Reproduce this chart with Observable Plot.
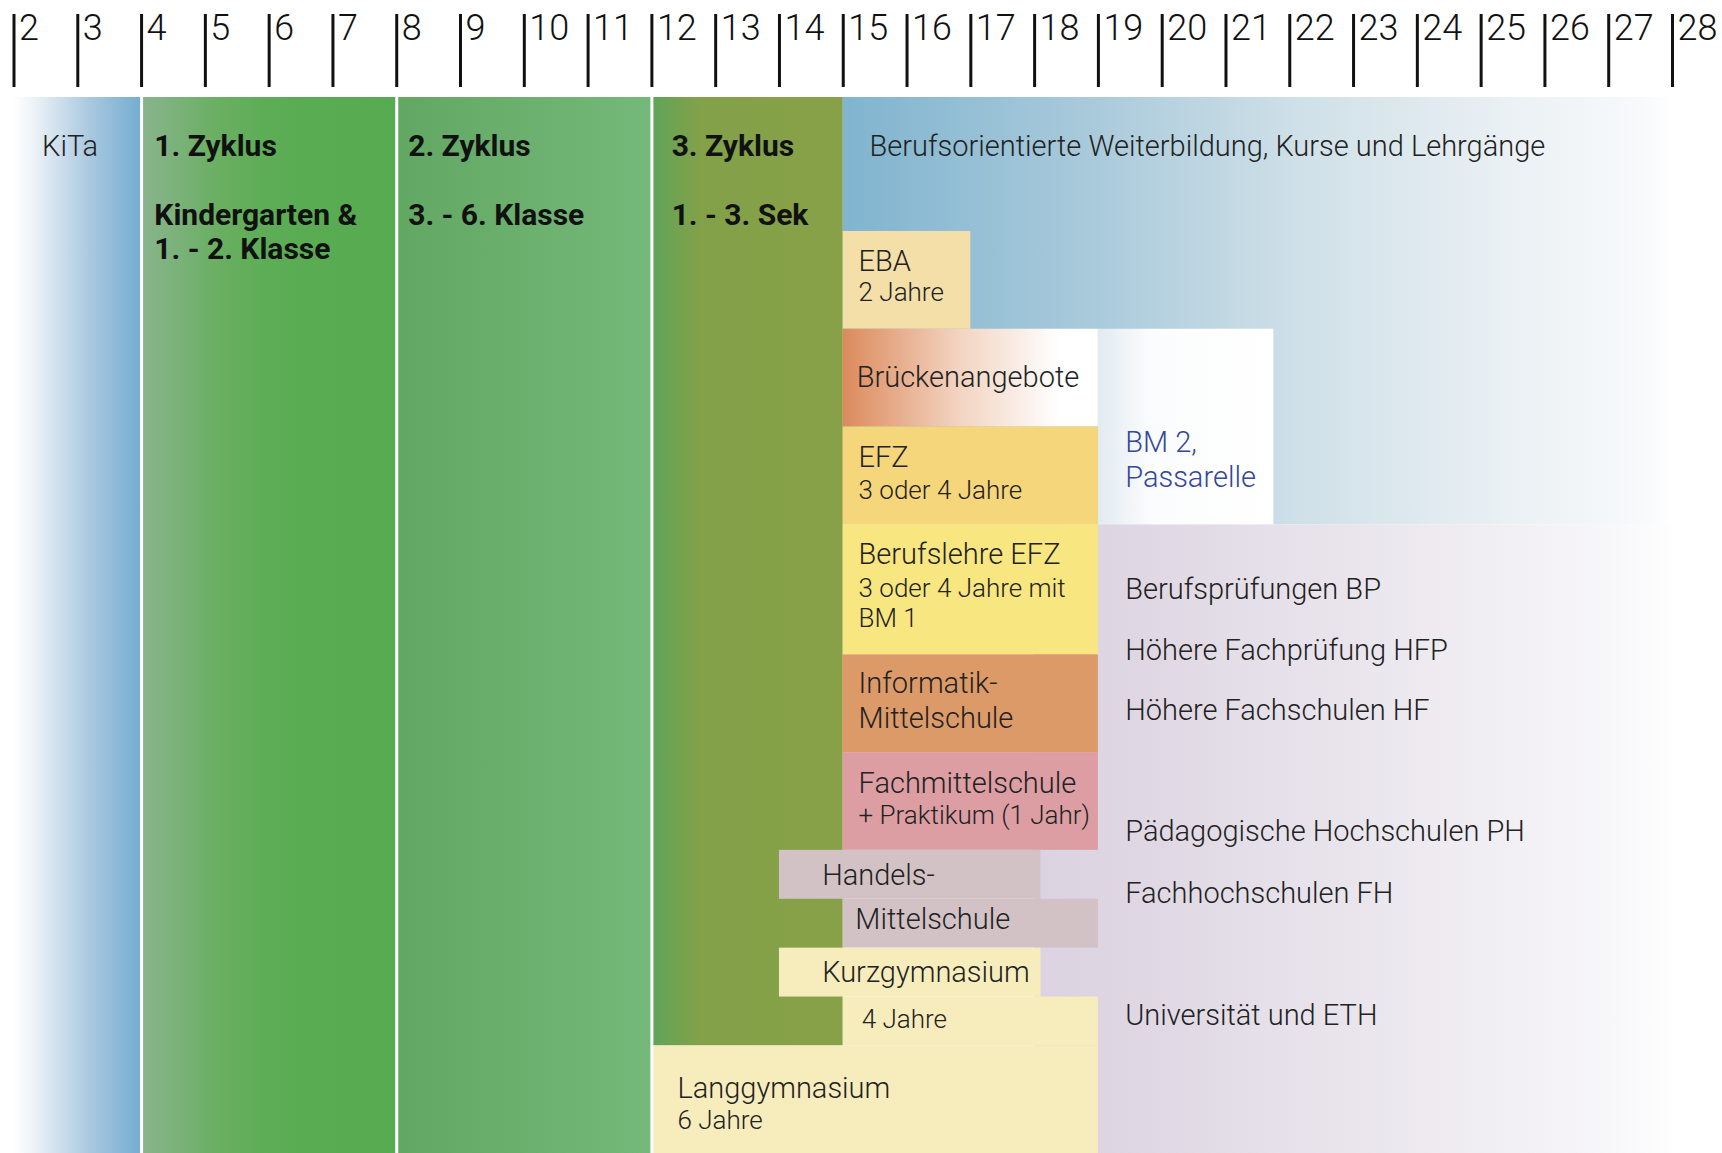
<!DOCTYPE html>
<html><head><meta charset="utf-8">
<script src="https://cdn.jsdelivr.net/npm/d3@7"></script>
<script src="https://cdn.jsdelivr.net/npm/@observablehq/plot@0.6"></script>
<style>
html,body{margin:0;padding:0;background:#fff;}
#chart svg{display:block;}
</style></head><body><div id="chart"></div>
<script>
// ---- data ----
const ages = d3.range(2, 29);               // Alter (Jahre), Achsenbeschriftung
const separators = [4, 8, 12];              // Grenzen KiTa / Zyklen

// Bildungsangebote: Name, Alter von/bis, Zeile von/bis
const blockNames = ["Berufsorientierte Weiterbildung", "Tertiärstufe", "KiTa", "1. Zyklus", "2. Zyklus", "3. Zyklus",
  "EBA", "Brückenangebote", "BM 2, Passarelle", "EFZ", "Berufslehre EFZ mit BM 1", "Informatik-Mittelschule",
  "Fachmittelschule", "Handels-Mittelschule (1)", "Handels-Mittelschule (2)", "Kurzgymnasium (1)", "Kurzgymnasium (2)", "Langgymnasium"];
const ageFrom = [15, 18, 2, 4, 8, 12, 15, 15, 19, 15, 15, 15, 15, 14, 15, 14, 15, 12];
const ageTo   = [28, 28, 4, 8, 12, 15, 17, 19, 21.75, 19, 19, 19, 19, 18.1, 19, 18.1, 19, 19];
const rowFrom = [0, 4.37, 0, 0, 0, 0, 1.37, 2.37, 2.37, 3.37, 4.37, 5.7, 6.7, 7.7, 8.2, 8.7, 9.2, 9.7];
const rowTo   = [4.37, 10.8, 10.8, 10.8, 10.8, 9.7, 2.37, 3.37, 4.37, 4.37, 5.7, 6.7, 7.7, 8.2, 8.7, 9.2, 9.7, 10.8];

// Beschriftungen
const headTexts = ["1. Zyklus", "Kindergarten &", "1. - 2. Klasse", "2. Zyklus", "3. - 6. Klasse", "3. Zyklus", "1. - 3. Sek"];
const headAges  = [4.2, 4.2, 4.2, 8.18, 8.18, 12.31, 12.31];
const headRows  = [0.5, 1.21, 1.55, 0.5, 1.21, 0.5, 1.21];

const mainTexts = ["KiTa", "Berufsorientierte Weiterbildung, Kurse und Lehrgänge", "EBA", "Brückenangebote", "EFZ",
  "Berufslehre EFZ", "Informatik-", "Mittelschule", "Fachmittelschule", "Handels-", "Mittelschule", "Kurzgymnasium", "Langgymnasium",
  "Berufsprüfungen BP", "Höhere Fachprüfung HFP", "Höhere Fachschulen HF", "Pädagogische Hochschulen PH", "Fachhochschulen FH", "Universität und ETH"];
const mainAges = [2.44, 15.41, 15.24, 15.21, 15.24, 15.24, 15.24, 15.24, 15.24, 14.67, 15.19, 14.67, 12.4,
  19.42, 19.42, 19.42, 19.42, 19.42, 19.42];
const mainRows = [0.5, 0.5, 1.68, 2.87, 3.68, 4.68, 6.0, 6.35, 7.02, 7.96, 8.41, 8.95, 10.14,
  5.03, 5.66, 6.27, 7.51, 8.14, 9.39];

const subTexts = ["2 Jahre", "3 oder 4 Jahre", "3 oder 4 Jahre mit", "BM 1", "+ Praktikum (1 Jahr)", "4 Jahre", "6 Jahre"];
const subAges  = [15.24, 15.24, 15.24, 15.24, 15.24, 15.29, 12.4];
const subRows  = [2.0, 4.02, 5.02, 5.33, 7.34, 9.43, 10.46];

const bmTexts = ["BM 2,", "Passarelle"];
const bmAges  = [19.42, 19.42];
const bmRows  = [3.53, 3.89];

// ---- styles ----
const palette = {
  "Berufsorientierte Weiterbildung": "url(#gWeiter)",
  "Tertiärstufe": "url(#gTert)",
  "KiTa": "url(#gKita)",
  "1. Zyklus": "url(#gZ1)",
  "2. Zyklus": "url(#gZ2)",
  "3. Zyklus": "url(#gZ3)",
  "EBA": "#f4dfa9",
  "Brückenangebote": "url(#gBruecke)",
  "BM 2, Passarelle": "url(#gBM2)",
  "EFZ": "#f6d67b",
  "Berufslehre EFZ mit BM 1": "#f8e680",
  "Informatik-Mittelschule": "#dd9a69",
  "Fachmittelschule": "#dc9ea2",
  "Handels-Mittelschule (1)": "#d2c2c6",
  "Handels-Mittelschule (2)": "#d2c2c6",
  "Kurzgymnasium (1)": "#f7ecbc",
  "Kurzgymnasium (2)": "#f7ecbc",
  "Langgymnasium": "#f7ecbc"
};
const gradients = {
  gWeiter: [[0, "#80b4cf"], [0.3, "#a9cadb"], [0.55, "#cfe0e8"], [0.8, "#eaf0f4"], [0.97, "#f8fafb"], [1, "#ffffff"]],
  gTert: [[0, "#dcd3e2"], [0.1, "#ddd5e2"], [0.55, "#ebe7ee"], [0.9, "#f7f6f9"], [1, "#fefefe"]],
  gKita: [[0, "#ffffff"], [0.15, "#eef3f8"], [0.6, "#a9c8df"], [1, "#74acd2"]],
  gZ1: [[0, "#8ab48e"], [0.3, "#6aaf62"], [0.5, "#5cad55"], [1, "#56aa4f"]],
  gZ2: [[0, "#62a762"], [1, "#75b97a"]],
  gZ3: [[0, "#5fa45a"], [0.25, "#82a149"], [1, "#88a148"]],
  gBruecke: [[0, "#dc8a5c"], [0.45, "#f2d3c0"], [0.85, "#ffffff"], [1, "#ffffff"]],
  gBM2: [[0, "#e2ebf1"], [0.3, "#fbfcfd"], [1, "#ffffff"]]
};

const blocks = blockNames.map((name, i) => ({name, x1: ageFrom[i], x2: ageTo[i], y1: rowFrom[i], y2: rowTo[i]}));
const zip = (t, a, r) => t.map((text, i) => ({text, age: a[i], row: r[i]}));
const headLabels = zip(headTexts, headAges, headRows);
const mainLabels = zip(mainTexts, mainAges, mainRows);
const subLabels = zip(subTexts, subAges, subRows);
const bmLabels = zip(bmTexts, bmAges, bmRows);

const FONT = "Roboto, 'Liberation Sans', Arial, sans-serif";

const svg = Plot.plot({
  width: 1722,
  height: 1153,
  marginTop: 86,
  insetTop: 11,
  marginLeft: 13.5,
  marginRight: 50,
  marginBottom: 0,
  x: {domain: [2, 28], axis: null},
  y: {domain: [0, 10.8], reverse: true, axis: null},
  color: {type: "identity"},
  style: {fontFamily: FONT, background: "#fff", color: "#222"},
  marks: [
    Plot.rect(blocks, {x1: "x1", x2: "x2", y1: "y1", y2: "y2", fill: d => palette[d.name]}),
    Plot.ruleX(separators, {stroke: "#fff", strokeWidth: 3}),
    // tick lines
    Plot.axisX(ages, {anchor: "top", tickSize: 73, tickFormat: () => "", color: "#111", strokeWidth: 3}),
    // tick labels, to the right of each line
    Plot.axisX(ages, {anchor: "top", tickSize: 0, tickPadding: 72, lineAnchor: "top", textAnchor: "start",
      dx: 5, fontSize: 36, fontWeight: 300, color: "#111", tickFormat: d => String(d)}),
    Plot.text(headLabels, {x: "age", y: "row", text: "text", textAnchor: "start", lineAnchor: "middle",
      fontSize: 30, fontWeight: 700, fill: "#111"}),
    Plot.text(mainLabels, {x: "age", y: "row", text: "text", textAnchor: "start", lineAnchor: "middle",
      fontSize: 29, fontWeight: 300, fill: "#222"}),
    Plot.text(subLabels, {x: "age", y: "row", text: "text", textAnchor: "start", lineAnchor: "middle",
      fontSize: 26, fontWeight: 300, fill: "#222"}),
    Plot.text(bmLabels, {x: "age", y: "row", text: "text", textAnchor: "start", lineAnchor: "middle",
      fontSize: 29, fontWeight: 300, fill: "#34479a"})
  ]
});

const defs = d3.select(svg).insert("defs", ":first-child");
for (const [id, stops] of Object.entries(gradients)) {
  const g = defs.append("linearGradient").attr("id", id).attr("x1", 0).attr("x2", 1).attr("y1", 0).attr("y2", 0);
  for (const [o, c] of stops) g.append("stop").attr("offset", o).attr("stop-color", c);
}
document.getElementById("chart").appendChild(svg);
</script></body></html>
